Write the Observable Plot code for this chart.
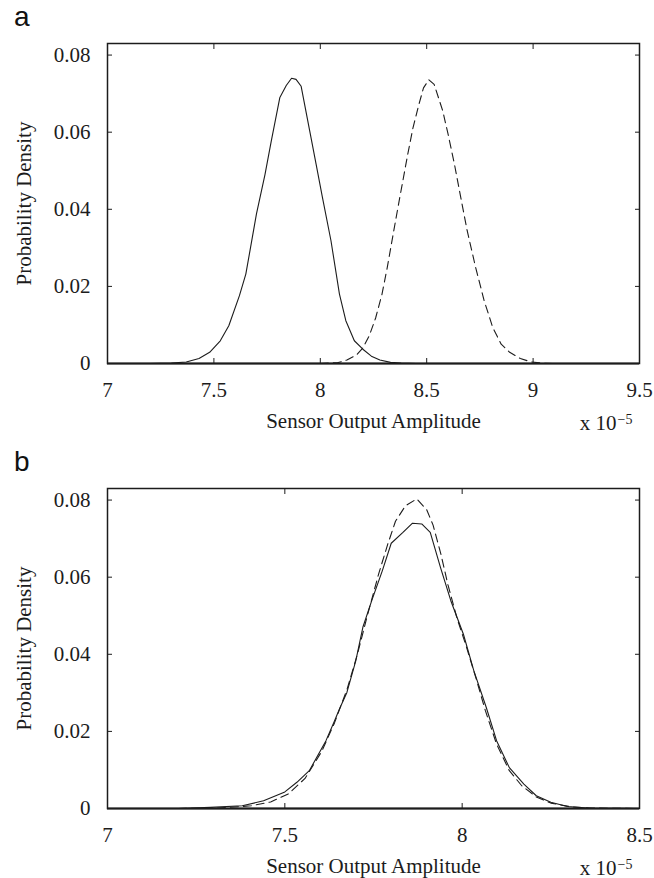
<!DOCTYPE html>
<html><head><meta charset="utf-8">
<script src="https://cdn.jsdelivr.net/npm/d3@7"></script>
<script src="https://cdn.jsdelivr.net/npm/@observablehq/plot@0.6"></script>
<style>
body{margin:0;background:#fff;}
.panel{position:relative;width:654px;height:439px;}
.panel svg{display:block;}
.panel svg text{font-family:"Liberation Serif","Times New Roman",Times,serif;}
.tag{position:absolute;left:14px;font:28px "Liberation Sans",Arial,sans-serif;line-height:28px;color:#111;}
</style></head><body>
<div id="pa" class="panel"><div class="tag" style="top:3px">a</div></div>
<div id="pb" class="panel"><div class="tag" style="top:9px">b</div></div>
<script>
// ---- data (x in units of 1e-5) ----
const xTicksA = [7, 7.5, 8, 8.5, 9, 9.5];
const xTickLabelsA = ["7", "7.5", "8", "8.5", "9", "9.5"];
const xTicksB = [7, 7.5, 8, 8.5];
const xTickLabelsB = ["7", "7.5", "8", "8.5"];
const yTicks = [0, 0.02, 0.04, 0.06, 0.08];
const yTickLabels = ["0", "0.02", "0.04", "0.06", "0.08"];
const xLabel = "Sensor Output Amplitude";
const yLabel = "Probability Density";
const expBase = "x 10";
const expPow = "\u22125";

const solidAX = [7.0, 7.2, 7.3, 7.37, 7.43, 7.48, 7.53, 7.57, 7.62, 7.65, 7.67, 7.70, 7.74, 7.77, 7.81, 7.84, 7.865, 7.886, 7.91, 7.95, 7.98, 8.01, 8.05, 8.09, 8.12, 8.16, 8.20, 8.24, 8.28, 8.33, 8.38, 8.45, 9.5];
const solidAY = [0, 0, 0.0001, 0.0004, 0.0013, 0.0029, 0.0059, 0.0098, 0.0176, 0.0232, 0.0294, 0.0388, 0.049, 0.0578, 0.069, 0.0721, 0.074, 0.0737, 0.0719, 0.0604, 0.0518, 0.0431, 0.0319, 0.018, 0.0111, 0.0059, 0.0037, 0.0019, 0.0009, 0.0003, 0.0001, 0, 0];

const dashAX = [8.0, 8.08, 8.125, 8.17, 8.20, 8.23, 8.26, 8.29, 8.315, 8.34, 8.365, 8.385, 8.41, 8.435, 8.46, 8.485, 8.51, 8.535, 8.575, 8.60, 8.63, 8.66, 8.69, 8.73, 8.77, 8.81, 8.85, 8.89, 8.94, 8.99, 9.04, 9.1, 9.5];
const dashAY = [0, 0.0002, 0.0009, 0.0022, 0.0040, 0.0072, 0.0118, 0.0180, 0.0250, 0.0328, 0.0405, 0.0465, 0.0540, 0.0610, 0.0665, 0.0715, 0.0736, 0.0724, 0.0656, 0.0596, 0.0518, 0.0431, 0.0345, 0.0249, 0.0163, 0.0094, 0.0050, 0.0029, 0.0013, 0.0004, 0.0001, 0, 0];

const solidBX = [7.0, 7.2, 7.29, 7.38, 7.44, 7.5, 7.534, 7.569, 7.616, 7.64, 7.654, 7.675, 7.70, 7.72, 7.745, 7.775, 7.80, 7.833, 7.86, 7.886, 7.91, 7.939, 7.968, 8.0035, 8.033, 8.068, 8.097, 8.133, 8.174, 8.209, 8.25, 8.297, 8.356, 8.5];
const solidBY = [0, 0, 0.0003, 0.0007, 0.002, 0.0043, 0.0068, 0.0098, 0.0176, 0.0227, 0.0258, 0.0301, 0.0383, 0.047, 0.0539, 0.0617, 0.0688, 0.0716, 0.074, 0.0738, 0.0716, 0.0625, 0.0539, 0.0452, 0.0357, 0.0262, 0.0176, 0.0106, 0.0063, 0.0033, 0.0016, 0.0005, 0.0001, 0];

const dashBX = [7.2, 7.31, 7.405, 7.46, 7.51, 7.557, 7.604, 7.64, 7.675, 7.704, 7.734, 7.765, 7.79, 7.812, 7.84, 7.872, 7.90, 7.918, 7.94, 7.96, 7.985, 8.01, 8.04, 8.065, 8.097, 8.133, 8.168, 8.209, 8.25, 8.309, 8.367, 8.5];
const dashBY = [0, 0.0001, 0.0007, 0.0017, 0.0038, 0.0078, 0.0148, 0.0222, 0.0308, 0.0398, 0.0505, 0.061, 0.0685, 0.0745, 0.0785, 0.0803, 0.0775, 0.0735, 0.066, 0.058, 0.0495, 0.0425, 0.0335, 0.0255, 0.0167, 0.0098, 0.0059, 0.003, 0.0014, 0.0004, 0.0001, 0];

const ink = "#1c1c1c";
const serif = '"Liberation Serif", "Times New Roman", Times, serif';
const fs = 21;

function panel({xDomain, xTicks, xTickLabels, sx, sy, dx, dy, marginTop, marginBottom}) {
  const solid = sx.map((x, i) => ({x, y: sy[i]}));
  const dashed = dx.map((x, i) => ({x, y: dy[i]}));
  const txt = {fontFamily: serif, fontSize: fs};
  return Plot.plot({
    width: 654, height: 439,
    marginLeft: 107, marginRight: 15, marginTop, marginBottom,
    style: {fontFamily: serif, fontSize: fs + "px", color: ink, background: "white", overflow: "visible"},
    x: {domain: xDomain},
    y: {domain: [0, 0.083]},
    marks: [
      Plot.line(solid, {x: "x", y: "y", stroke: ink, strokeWidth: 1.1}),
      Plot.line(dashed, {x: "x", y: "y", stroke: ink, strokeWidth: 1.1, strokeDasharray: "8,5"}),
      Plot.frame({stroke: ink, strokeWidth: 1.5}),
      Plot.ruleY([0], {stroke: ink, strokeWidth: 2.2}),
      Plot.axisX(xTicks, {anchor: "bottom", tickSize: -5, tickPadding: 24, ...txt,
        tickFormat: d => xTickLabels[xTicks.indexOf(d)],
        label: xLabel, labelArrow: "none", labelAnchor: "center", labelOffset: 64}),
      Plot.axisX(xTicks, {anchor: "top", tickSize: -5, fill: "none", label: null}),
      Plot.axisY(yTicks, {anchor: "left", tickSize: -5, tickPadding: 22, ...txt,
        tickFormat: d => yTickLabels[yTicks.indexOf(d)],
        label: yLabel, labelArrow: "none", labelAnchor: "center", labelOffset: 91}),
      Plot.axisY(yTicks, {anchor: "right", tickSize: -5, fill: "none", label: null}),
      Plot.text([expBase], {text: d => d, ...txt, frameAnchor: "bottom-right", textAnchor: "end", dx: -23, dy: 66, fill: ink}),
      Plot.text([expPow], {text: d => d, fontFamily: serif, fontSize: 14, frameAnchor: "bottom-right", textAnchor: "start", dx: -22, dy: 60, fill: ink})
    ]
  });
}

document.getElementById("pa").appendChild(panel({
  xDomain: [7, 9.5], xTicks: xTicksA, xTickLabels: xTickLabelsA,
  sx: solidAX, sy: solidAY, dx: dashAX, dy: dashAY, marginTop: 43, marginBottom: 76
}));
document.getElementById("pb").appendChild(panel({
  xDomain: [7, 8.5], xTicks: xTicksB, xTickLabels: xTickLabelsB,
  sx: solidBX, sy: solidBY, dx: dashBX, dy: dashBY, marginTop: 49, marginBottom: 70
}));
</script>
</body></html>
